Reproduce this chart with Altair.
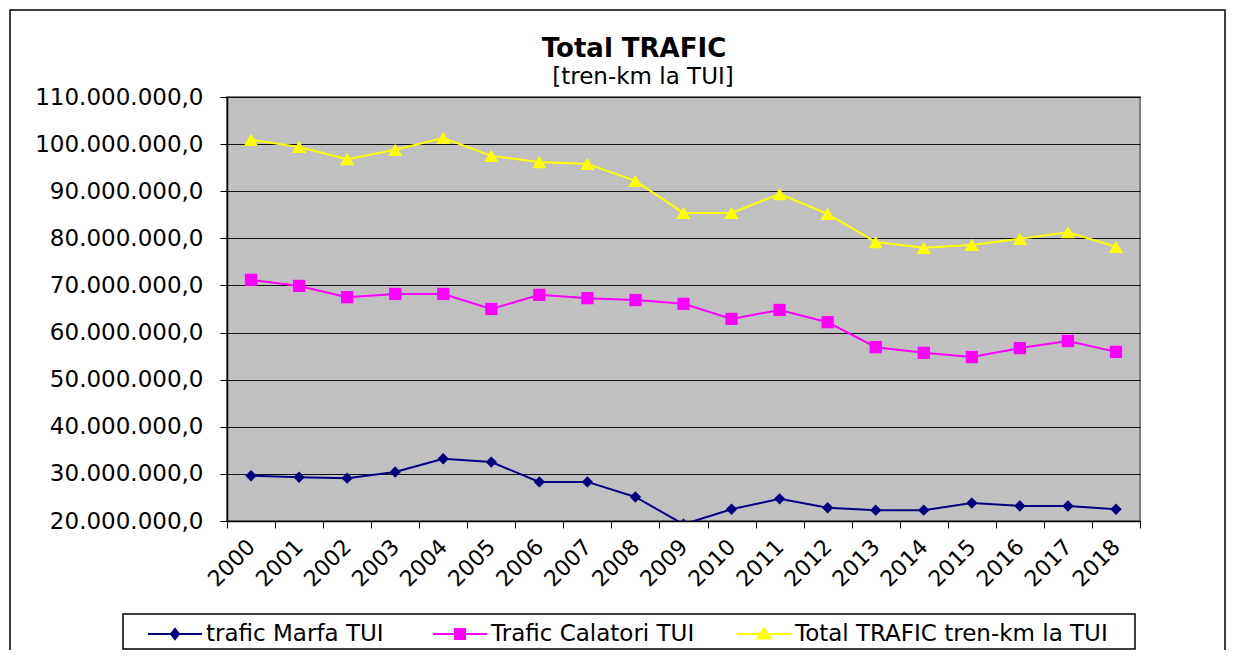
import altair as alt
import pandas as pd

years = [str(y) for y in range(2000, 2019)]
marfa = [29600000, 29300000, 29100000, 30400000, 33200000, 32500000, 28300000, 28300000, 25100000, 19300000,
         22500000, 24700000, 22800000, 22300000, 22300000, 23800000, 23200000, 23200000, 22500000]
calatori = [71200000, 69900000, 67500000, 68200000, 68200000, 65000000, 68000000, 67300000, 66900000, 66100000,
            62900000, 64800000, 62200000, 56900000, 55700000, 54800000, 56700000, 58200000, 55900000]
total = [100900000, 99400000, 96800000, 98800000, 101300000, 97500000, 96200000, 95800000, 92200000, 85400000,
         85400000, 89400000, 85200000, 79200000, 78000000, 78600000, 79900000, 81300000, 78200000]
series = ["trafic Marfa  TUI", "Trafic Calatori TUI", "Total TRAFIC   tren-km la TUI"]
colors = ["#000080", "#FF00FF", "#FFFF00"]
shapes = ["diamond", "square", "triangle-up"]
sizes = [130, 150, 200]
# legend symbols: a line segment with the series marker on it
legend_shapes = ["M-1,0H1M0,-0.19L0.15,0L0,0.19L-0.15,0Z",
                 "M-1,0H1M-0.185,-0.185H0.185V0.185H-0.185Z",
                 "M-1,0H1M0,-0.21L0.24,0.17H-0.24Z"]
y_ticks = [20000000, 30000000, 40000000, 50000000, 60000000, 70000000, 80000000, 90000000, 100000000, 110000000]
title_text = "Total TRAFIC"
subtitle_text = "[tren-km la TUI]"

rows = []
for name, vals in zip(series, [marfa, calatori, total]):
    for yr, v in zip(years, vals):
        rows.append({"year": yr, "value": v, "series": name})
df = pd.DataFrame(rows)

FONT = "DejaVu Sans"

x_enc = alt.X("year:N", sort=years,
              scale=alt.Scale(type="band", paddingInner=0, paddingOuter=0),
              axis=alt.Axis(title=None, labelAngle=-45, labelAlign="right", labelBaseline="middle",
                            labelPadding=15, tickBand="extent", tickSize=7, tickColor="black",
                            domainColor="black", domainWidth=1.5, labelFont=FONT, labelFontSize=22,
                            labelColor="black", labelOverlap=False, grid=False))
y_enc = alt.Y("value:Q",
              scale=alt.Scale(domain=[20000000, 110000000], nice=False, zero=False),
              axis=alt.Axis(title=None, values=y_ticks, format=",.1f", tickSize=7, tickColor="black",
                            domainColor="black", domainWidth=1.5, labelFont=FONT, labelFontSize=23,
                            labelColor="black", labelPadding=17, grid=True, gridColor="#111111",
                            gridWidth=1, labelOverlap=False))

legend = alt.Legend(title=None, orient="none", legendX=-80, legendY=509, direction="horizontal",
                    symbolSize=2916, symbolStrokeWidth=2, labelOffset=3, columnPadding=38,
                    labelFont=FONT, labelFontSize=23, labelColor="black", labelLimit=500, padding=0)
color_enc = alt.Color("series:N", scale=alt.Scale(domain=series, range=colors), legend=legend)

base = alt.Chart(df)

lines = base.mark_line(strokeWidth=2, clip=True).encode(x=x_enc, y=y_enc, color=color_enc)

# legend-only layer (no data rows drawn): provides line+marker symbols for the legend
legend_layer = base.transform_filter("false").mark_point(filled=True, opacity=1).encode(
    x=x_enc, y=y_enc, color=color_enc,
    shape=alt.Shape("series:N", scale=alt.Scale(domain=series, range=legend_shapes), legend=legend),
)

point_layers = []
for name, shp, sz in zip(series, shapes, sizes):
    point_layers.append(
        base.transform_filter(alt.datum.series == name)
        .mark_point(filled=True, opacity=1, clip=True, shape=shp, size=sz)
        .encode(x=x_enc, y=y_enc, color=color_enc)
    )

one = alt.Data(values=[{"k": 1}])
frame = alt.Chart(one).mark_rect(fillOpacity=0, stroke="black", strokeWidth=1.5).encode(
    x=alt.value(-217), x2=alt.value(998), y=alt.value(-87), y2=alt.value(570))
legend_box = alt.Chart(one).mark_rect(fillOpacity=0, stroke="black", strokeWidth=1.5).encode(
    x=alt.value(-104), x2=alt.value(908), y=alt.value(517), y2=alt.value(552))
title_mark = alt.Chart(one).mark_text(font=FONT, fontSize=26, fontWeight="bold", color="black",
                                      align="center", baseline="alphabetic").encode(
    x=alt.value(407), y=alt.value(-40), text=alt.value(title_text))
subtitle_mark = alt.Chart(one).mark_text(font=FONT, fontSize=23, color="black",
                                         align="center", baseline="alphabetic").encode(
    x=alt.value(416), y=alt.value(-13), text=alt.value(subtitle_text))

chart = alt.layer(frame, legend_box, title_mark, subtitle_mark, lines, legend_layer, *point_layers).properties(
    width=913, height=424,
    autosize=alt.AutoSizeParams(type="none"),
    padding={"left": 219, "top": 89, "right": 86, "bottom": 129},
).configure(
    locale={"number": {"decimal": ",", "thousands": ".", "grouping": [3], "currency": ["", ""]}},
    background="white",
    view=alt.ViewConfig(fill="#C0C0C0", stroke="#808080", strokeWidth=2),
)

chart.save("out.html", embed_options={"renderer": "svg", "actions": False})
